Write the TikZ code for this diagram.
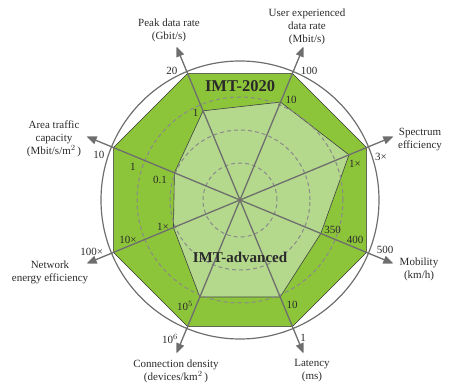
\documentclass[tikz,border=0pt]{standalone}
\usepackage{fontspec}
\setmainfont{Liberation Serif}
\usetikzlibrary{arrows.meta}
\definecolor{outg}{HTML}{8CC43A}
\definecolor{ing}{HTML}{B4D98C}
\definecolor{axg}{HTML}{6E6E6E}
\definecolor{dashg}{HTML}{8A8A8A}
\definecolor{txt}{HTML}{2A2A2A}
\begin{document}
\begin{tikzpicture}[x=1pt,y=1pt,
  axis/.style={draw=axg,line width=1.3pt,-{Triangle[length=10pt,width=8pt]}},
  ring/.style={draw=dashg,line width=1pt,dash pattern=on 4pt off 3pt},
  val/.style={text=txt,font=\fontsize{11}{13}\selectfont,inner sep=0pt},
  axlab/.style={text=txt,font=\fontsize{11}{13}\selectfont,align=center,inner sep=0pt},
  big/.style={text=txt,font=\fontsize{16.5}{18}\selectfont\bfseries,inner sep=0pt}]
\useasboundingbox (-240,-187) rectangle (223,200);
\coordinate (O) at (0,0);
% outer octagon vertices (IMT-2020)
\foreach \a [count=\i] in {112.5,67.5,22.5,-22.5,-67.5,-112.5,-157.5,157.5}
  {\coordinate (v\i) at (\a:137);
   \coordinate (t\i) at (\a:166);}
% inner polygon (IMT-advanced)
\coordinate (w1) at (112.5:96.5);
\coordinate (w2) at (67.5:106);
\coordinate (w3) at (22.5:118);
\coordinate (w4) at (-22.5:87.5);
\coordinate (w5) at (-67.5:105);
\coordinate (w6) at (-112.5:105);
\coordinate (w7) at (-157.5:72);
\coordinate (w8) at (157.5:71);
\fill[outg] (v1)--(v2)--(v3)--(v4)--(v5)--(v6)--(v7)--(v8)--cycle;
\draw[black!80,line width=0.6pt] (v1)--(v2)--(v3)--(v4)--(v5)--(v6)--(v7)--(v8)--cycle;
\fill[ing] (w1)--(w2)--(w3)--(w4)--(w5)--(w6)--(w7)--(w8)--cycle;
\draw[black!75,line width=0.6pt] (w1)--(w2)--(w3)--(w4)--(w5)--(w6)--(w7)--(w8)--cycle;
\draw[ring] (O) circle[radius=37];
\draw[ring] (O) circle[radius=70];
\draw[ring] (O) circle[radius=103];
\draw[axg,line width=1.2pt] (O) circle[radius=139];
\foreach \i in {1,...,8} \draw[axis] (O) -- (t\i);
% titles
\node[big] (imt2020) at (0,114) {IMT-2020};
\node[big,font=\fontsize{15}{18}\selectfont\bfseries] (imtadv) at (0,-57) {IMT-advanced};
% value labels
\node[val] (l20) at (-68,129) {20};
\node[val] (lp1) at (-44.3,87.3) {1};
\node[val] (l100) at (69,129.3) {100};
\node[val] (lu10) at (51,100) {10};
\node[val] (l3x) at (141,43) {3×};
\node[val] (ls1x) at (115,36) {1×};
\node[val] (l350) at (92.7,-30) {350};
\node[val] (l400) at (115,-39.7) {400};
\node[val] (l500) at (145,-49.7) {500};
\node[val] (ll10) at (52,-105.3) {10};
\node[val] (ll1) at (63,-138) {1};
\node[val] (lc5) at (-55,-106.3) {10$^{5}$};
\node[val] (lc6) at (-70,-139) {10$^{6}$};
\node[val] (ln1) at (-77,-27) {1×};
\node[val] (ln10) at (-112,-39.7) {10×};
\node[val] (ln100) at (-148.3,-52) {100×};
\node[val] (la10) at (-141,45) {10};
\node[val] (la1) at (-107,33.3) {1};
\node[val] (la01) at (-80,20) {0.1};
% axis labels
\node[axlab] (peak) at (-71,169.5) {Peak data rate\\(Gbit/s)};
\node[axlab] (user) at (67,173) {User experienced\\data rate\\(Mbit/s)};
\node[axlab] (spec) at (180,60.5) {Spectrum\\efficiency};
\node[axlab] (area) at (-186,61) {Area traffic\\capacity\\(Mbit/s/m$^{2}$\,)};
\node[axlab] (netw) at (-190,-72.3) {Network\\energy efficiency};
\node[axlab] (conn) at (-64,-171.7) {Connection density\\(devices/km$^{2}$\,)};
\node[axlab] (lat) at (72,-170.7) {Latency\\(ms)};
\node[axlab] (mob) at (179,-69) {Mobility\\(km/h)};
\end{tikzpicture}
\end{document}
